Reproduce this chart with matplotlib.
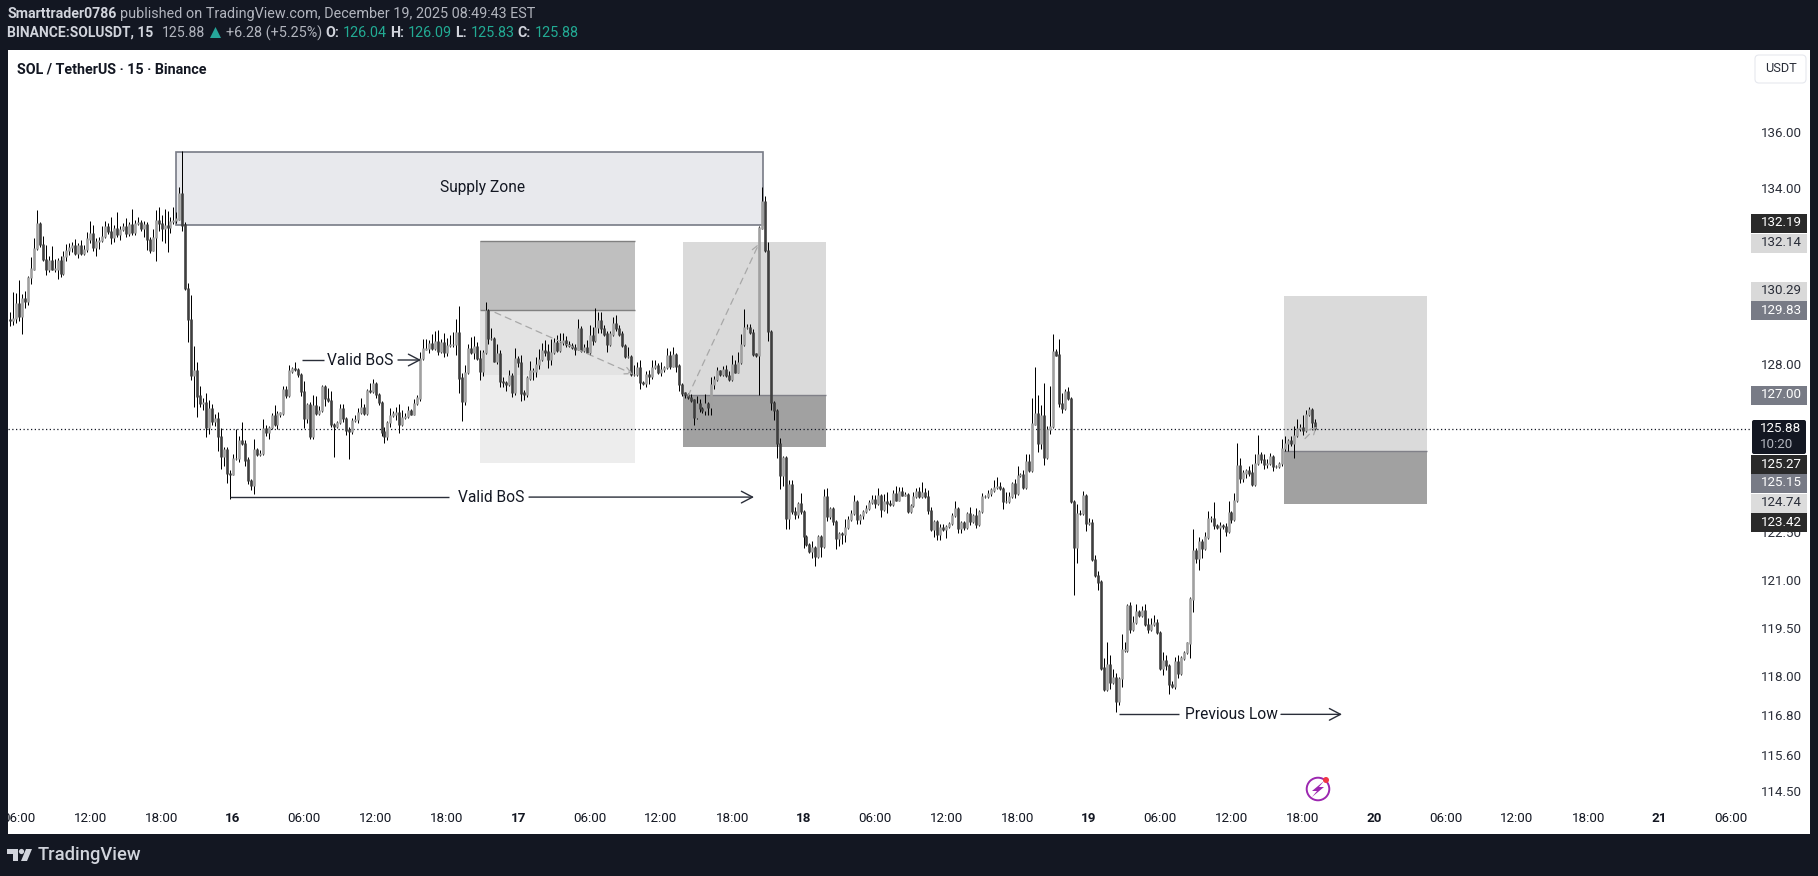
import matplotlib

matplotlib.use("Agg")
import matplotlib.pyplot as plt
import matplotlib.transforms as mtrans
import numpy as np
from matplotlib.patches import Circle, FancyBboxPatch, Polygon, Rectangle

W, H = 1818, 876
BG = "#131722"

closes = [
    129.48, 129.55, 130.06, 129.61, 130.22, 130.11, 130.95, 131.23, 131.93, 132.78,
    132.07, 131.55, 131.23, 131.51, 131.23, 131.23, 131.51, 131.06, 131.66, 131.85,
    131.96, 132.02, 131.76, 132.02, 131.77, 131.90, 132.26, 132.43, 131.96, 132.18,
    132.22, 132.35, 132.67, 132.52, 132.30, 132.63, 132.41, 132.60, 132.67, 132.46,
    132.74, 132.49, 132.78, 132.82, 132.63, 132.74, 132.24, 131.88, 132.30, 132.91,
    132.80, 132.63, 132.71, 132.67, 132.86, 132.90, 132.95, 133.83, 132.74, 130.56,
    129.50, 127.63, 127.78, 126.95, 126.70, 126.75, 125.91, 126.53, 126.10, 126.21,
    125.61, 124.96, 125.18, 124.42, 124.40, 124.90, 124.90, 125.50, 125.39, 124.85,
    124.18, 124.04, 125.18, 125.02, 125.07, 125.88, 125.74, 125.91, 126.30, 126.02,
    126.36, 126.39, 127.18, 126.98, 127.78, 127.85, 127.82, 127.67, 127.09, 126.21,
    126.66, 125.63, 126.64, 126.39, 126.47, 127.26, 126.86, 126.81, 126.02, 125.95,
    126.08, 126.55, 126.21, 125.83, 125.80, 126.14, 126.17, 126.42, 126.58, 126.39,
    127.14, 127.11, 127.37, 127.00, 126.75, 125.77, 125.61, 126.08, 126.30, 126.36,
    126.39, 126.02, 126.25, 126.28, 126.47, 126.36, 126.70, 126.89, 128.21, 128.52,
    128.54, 128.71, 128.54, 128.77, 128.43, 128.72, 128.40, 128.63, 128.68, 128.68,
    129.08, 127.55, 126.76, 127.72, 128.52, 128.40, 128.61, 128.20, 127.78, 128.40,
    129.81, 128.88, 128.88, 128.12, 128.38, 127.44, 127.41, 127.33, 127.63, 127.07,
    128.20, 128.06, 127.05, 127.01, 127.55, 127.78, 127.78, 128.01, 128.18, 128.46,
    128.42, 128.18, 128.40, 128.74, 128.46, 128.74, 128.80, 128.68, 128.63, 128.57,
    128.52, 129.19, 128.46, 128.57, 128.42, 128.97, 128.80, 129.25, 129.48, 129.22,
    129.02, 128.68, 129.02, 129.36, 129.22, 129.02, 128.63, 128.27, 128.27, 127.67,
    127.67, 127.89, 127.39, 127.36, 127.67, 127.61, 127.89, 127.95, 127.72, 127.84,
    127.89, 128.29, 127.95, 128.32, 127.95, 127.33, 127.05, 126.99, 126.91, 126.82,
    126.26, 126.71, 126.54, 126.48, 126.71, 126.59, 127.33, 127.50, 127.78, 127.67,
    127.84, 127.63, 127.50, 128.01, 127.75, 128.06, 128.68, 129.25, 129.25, 129.08,
    128.35, 128.30, 132.64, 133.55, 131.85, 129.10, 126.75, 126.47, 125.38, 124.36,
    124.93, 122.97, 124.04, 123.19, 123.08, 123.43, 123.19, 122.38, 122.12, 121.90,
    122.04, 121.74, 122.38, 122.08, 123.65, 123.03, 123.29, 122.86, 122.33, 122.47,
    122.46, 122.68, 122.94, 123.13, 123.51, 122.92, 123.05, 123.19, 123.29, 123.47,
    123.56, 123.45, 123.69, 123.26, 123.51, 123.45, 123.40, 123.77, 123.56, 123.83,
    123.72, 123.72, 123.19, 123.37, 123.67, 123.83, 123.67, 123.80, 123.67, 123.22,
    122.62, 122.86, 122.44, 122.68, 122.60, 122.70, 122.81, 123.05, 123.29, 122.65,
    122.83, 122.68, 123.13, 122.86, 123.05, 122.76, 123.19, 123.67, 123.67, 123.77,
    123.88, 123.95, 123.99, 123.93, 123.51, 123.51, 123.67, 124.10, 123.77, 124.36,
    124.39, 123.97, 124.79, 124.52, 126.03, 126.38, 125.40, 126.30, 124.95, 125.86,
    125.94, 128.43, 128.32, 126.70, 126.53, 127.09, 126.87, 123.51, 122.04, 123.13,
    123.11, 123.69, 122.81, 122.83, 121.65, 121.15, 120.94, 118.26, 117.60, 118.36,
    117.81, 117.97, 117.23, 117.94, 118.82, 118.82, 120.20, 119.45, 119.67, 120.00,
    119.88, 120.04, 119.61, 119.45, 119.61, 119.67, 119.35, 118.26, 118.50, 118.34,
    117.76, 117.70, 118.45, 118.11, 118.57, 118.74, 119.03, 120.41, 121.92, 121.68,
    122.21, 122.00, 122.37, 122.95, 122.95, 122.74, 122.69, 122.74, 122.71, 122.56,
    123.16, 122.92, 123.53, 124.68, 124.24, 124.43, 124.51, 124.43, 124.06, 124.75,
    125.02, 124.86, 124.70, 124.75, 124.97, 124.65, 124.65, 124.75, 125.23, 125.39,
    125.50, 125.41, 125.65, 125.89, 125.92, 125.81, 126.34, 126.50, 126.08, 125.88,
]

# upper and lower wick lengths in USDT, read bar by bar
wick_up = [
    .25, .90, .35, .80, .15, .25, .05, .40, .35, .47,
    .05, .30, .50, .15, .50, .35, .10, .15, .20, .25,
    .15, .15, .25, .10, .20, .15, .25, .45, .30, .10,
    .10, .35, .20, .15, .50, .10, .55, .10, .15, .30,
    .10, .55, .15, .20, .10, .15, .10, .10, .30, .35,
    .45, .30, .60, .50, .15, .45, .25, .25, 1.49, .10,
    .20, .85, .85, .30, .35, .15, .30, .30, .15, .15,
    .20, .30, .10, .10, .10, .15, .95, .15, .60, .10,
    .10, .05, .35, .05, .10, .30, .10, .05, .10, .35,
    .10, .05, .10, .10, .20, .05, .25, .05, .05, .35,
    .05, .10, .35, .30, .15, .05, .05, .35, .30, .05,
    .05, .15, .15, .05, .10, .10, .15, .15, .30, .10,
    .05, .25, .15, .05, .05, .05, .15, .05, .25, .10,
    .20, .30, .25, .10, .15, .05, .15, .10, .20, .35,
    .30, .10, .30, .35, .40, .15, .35, .25, .30, .40,
    .45, .90, .15, .25, .15, .40, .35, .15, .30, .10,
    .30, .05, .35, .05, .30, .10, .15, .05, .20, .10,
    .35, .10, .25, .10, .05, .35, .10, .25, .35, .25,
    .35, .25, .45, .15, .25, .30, .25, .15, .10, .10,
    .10, .35, .10, .10, .25, .35, .30, .65, .30, .30,
    .10, .10, .10, .25, .30, .10, .10, .05, .30, .05,
    .30, .20, .25, .05, .10, .15, .25, .20, .10, .25,
    .05, .25, .15, .25, .05, .05, .05, .05, .05, .10,
    .05, .25, .15, .05, .30, .05, .25, .10, .15, .05,
    .10, .15, .15, .30, .15, .35, .35, .60, .10, .10,
    .10, .05, .05, .50, .20, .30, .05, .05, .05, .20,
    .05, .05, .15, .15, .15, .05, .35, .05, .05, .05,
    .20, .05, .05, .05, .25, .30, .05, .05, .05, .05,
    .05, .25, .10, .10, .20, .05, .05, .05, .10, .10,
    .15, .15, .25, .05, .25, .30, .10, .10, .25, .15,
    .15, .10, .05, .05, .15, .10, .15, .35, .15, .20,
    .10, .05, .05, .10, .10, .05, .05, .10, .25, .05,
    .05, .05, .05, .20, .05, .25, .05, .10, .05, .10,
    .05, .25, .30, .15, .05, .30, .15, .05, .15, .30,
    .05, .15, .25, .25, .85, 1.55, .60, .35, 1.10, .10,
    1.35, .60, .10, .55, .35, .10, .15, .05, .05, .30,
    .10, .15, .05, .15, .10, .15, .15, .05, .30, .70,
    .30, .25, .15, .05, .50, .25, .05, .10, .20, .25,
    .05, .15, .20, .20, .20, .25, .10, .05, .25, .15,
    .05, .10, .15, .20, .05, .05, .05, .05, .70, .10,
    .15, .10, .15, .25, .10, .55, .05, .10, .05, .10,
    .35, .05, .25, .74, .25, .10, .05, .15, .30, .30,
    .65, .10, .20, .15, .10, .05, .05, .05, .30, .25,
    .05, .15, .30, .30, .10, .40, .15, .10, .05, .10,
]
wick_dn = [
    .20, .15, .15, .15, .60, .20, .10, .25, .05, .05,
    .10, .05, .20, .10, .05, .10, .35, .10, .05, .15,
    .15, .15, .05, .15, .05, .05, .10, .15, .10, .30,
    .25, .05, .05, .10, .20, .15, .10, .20, .05, .15,
    .10, .10, .10, .05, .10, .30, .35, .10, .05, .80,
    .25, .45, .50, .85, .20, .10, .10, .05, .20, .05,
    .75, .15, 1.05, .70, .10, .20, .30, .20, .10, .15,
    .45, .40, .30, .30, .80, .05, .05, .10, .05, .20,
    .10, .15, .30, .05, .05, .05, .10, .20, .05, .05,
    .15, .10, .05, .10, .05, .05, .05, .10, .15, .30,
    .15, .10, .10, .05, .05, .05, .25, .05, .10, 1.00,
    .05, .05, .10, .15, .90, .10, .05, .10, .05, .05,
    .05, .05, .05, .10, .10, .15, .20, .10, .15, .05,
    .20, .30, .05, .05, .05, .05, .05, .05, .10, .05,
    .05, .15, .05, .05, .10, .05, .15, .10, .05, .10,
    .35, .50, .62, .10, .05, .05, .20, .05, .30, .15,
    .05, .20, .05, .05, .10, .20, .15, .20, .05, .15,
    .10, .15, .25, .20, .10, .05, .30, .20, .15, .05,
    .15, .30, .20, .05, .05, .05, .10, .10, .05, .05,
    .20, .05, .05, .05, .05, .10, .15, .05, .20, .15,
    .05, .25, .05, .05, .10, .05, .05, .05, .05, .05,
    .05, .05, .20, .05, .10, .25, .10, .05, .05, .10,
    .10, .05, .10, .05, .20, .20, .10, .10, .05, .05,
    .25, .05, .10, .10, .15, .25, .25, .15, .05, .05,
    .05, .05, .05, .05, .05, .05, .05, .05, .05, .05,
    .05, .05, 1.30, .05, .05, .30, .25, .30, .45, .45,
    .35, .35, .35, .10, .15, .10, .10, .35, .05, .05,
    .20, .30, .05, .35, .05, .15, .10, .10, .35, .25,
    .30, .25, .05, .05, .05, .15, .15, .10, .05, .05,
    .05, .15, .05, .25, .05, .30, .05, .05, .05, .05,
    .05, .05, .05, .05, .05, .05, .05, .05, .05, .10,
    .05, .25, .15, .15, .05, .25, .05, .05, .05, .15,
    .15, .10, .05, .10, .05, .10, .05, .05, .05, .05,
    .10, .05, .05, .05, .25, .05, .05, .05, .15, .05,
    .05, .05, .05, .05, .05, .05, .30, .20, .25, .05,
    .15, .05, .05, .10, .15, .05, .05, .05, 1.50, .50,
    .05, .05, .25, .05, .05, .05, .25, .05, .05, .05,
    .20, .05, .33, .10, .25, .05, .05, .10, .05, .05,
    .05, .05, .05, .10, .05, .05, .05, .05, .20, .15,
    .30, .05, .10, .15, .05, .05, .05, .45, .40, .15,
    .35, .30, .05, .05, .10, .10, .05, .80, .10, .15,
    .05, .10, .05, .05, .15, .10, .15, .10, .05, .05,
    .05, .10, .15, .10, .05, .15, .05, .05, .10, .10,
    .25, .10, .50, .05, .10, .15, .05, .05, .25, .05,
]

axis_ticks = [136.0, 134.0, 128.0, 122.5, 121.0, 119.5, 118.0, 116.8, 115.6, 114.5]
time_labels = ["06:00", "12:00", "18:00", "16", "06:00", "12:00", "18:00", "17", "06:00",
               "12:00", "18:00", "18", "06:00", "12:00", "18:00", "19", "06:00", "12:00",
               "18:00", "20", "06:00", "12:00", "18:00", "21", "06:00"]
last_price = 125.88

# drawings: bar positions and prices
supply_bars = (55.9, 253.2)
supply_prices = (132.74, 135.30)
box_a_bars = (158.2, 210.4)
box_a_prices = (132.19, 129.83, 127.65, 124.74)
box_b_bars = (226.3, 274.7)
box_b_prices = (132.14, 127.00, 125.27)
box_c_bars = (428.6, 476.8)
box_c_prices = (130.29, 125.15, 123.42)
bos_short, bos_long, prev_low = 128.15, 123.65, 116.84

price_tags = [
    ("132.19", 223, "#2a2a2a", "white"),
    ("132.14", 243, "#d9d9d9", "#2a2e39"),
    ("130.29", 291, "#d9d9d9", "#2a2e39"),
    ("129.83", 310, "#787b86", "white"),
    ("127.00", 395, "#787b86", "white"),
    ("125.27", 464, "#2a2a2a", "white"),
    ("125.15", 483, "#787b86", "white"),
    ("124.74", 503, "#dcdcdc", "#2a2e39"),
    ("123.42", 522, "#2a2a2a", "white"),
]


def bar_at(px):
    return (px - 10) / 2.972


def run_text(ov, x, y, runs):
    # several coloured pieces on one baseline
    rend = ov.figure.canvas.get_renderer()
    for txt, color, weight, size in runs:
        t = ov.text(x, y, txt, color=color, fontsize=size, fontweight=weight, va="center", ha="left")
        x += t.get_window_extent(rend).width + 3.4


def main():
    plt.rcParams["font.family"] = ["Roboto", "DejaVu Sans"]
    fig = plt.figure(figsize=(W / 100, H / 100), dpi=100, facecolor=BG)

    ax = fig.add_axes([8 / W, 1 - 834 / H, (1810 - 8) / W, (834 - 50) / H], facecolor="white")
    ax.set_yscale("log")
    ax.set_xlim(bar_at(8), bar_at(1810))
    ax.set_ylim(136 * np.exp(-702 / 3835), 136 * np.exp(82 / 3835))
    ax.set_xticks([])
    ax.set_yticks([])
    ax.minorticks_off()
    for s in ax.spines.values():
        s.set_visible(False)

    c = np.array(closes)
    o = np.r_[129.50, c[:-1]]
    top = np.maximum(o, c)
    bot = np.minimum(o, c)
    hi = top + np.array(wick_up)
    lo = bot - np.array(wick_dn)
    x = np.arange(len(c))

    # boxes go under the candles
    ax.fill_between(supply_bars, *supply_prices, color="#e8e9ed", lw=0, zorder=1)
    ax.add_patch(Rectangle((supply_bars[0], supply_prices[0]), supply_bars[1] - supply_bars[0],
                           supply_prices[1] - supply_prices[0], fill=False, ec="#787b86", lw=1.2, zorder=1.5))
    ax.fill_between(box_a_bars, box_a_prices[1], box_a_prices[0], color="#bfbfbf", lw=0, zorder=1)
    ax.fill_between(box_a_bars, box_a_prices[2], box_a_prices[1], color="#e3e3e3", lw=0, zorder=1)
    ax.fill_between(box_a_bars, box_a_prices[3], box_a_prices[2], color="#ededed", lw=0, zorder=1)
    ax.hlines([box_a_prices[0], box_a_prices[1]], *box_a_bars, color="#808080", lw=1, zorder=1.5)
    ax.fill_between(box_b_bars, box_b_prices[1], box_b_prices[0], color="#dadada", lw=0, zorder=1)
    ax.fill_between(box_b_bars, box_b_prices[2], box_b_prices[1], color="#a1a1a1", lw=0, zorder=1)
    ax.hlines(box_b_prices[1], *box_b_bars, color="#808088", lw=1, zorder=1.5)
    ax.fill_between(box_c_bars, box_c_prices[1], box_c_prices[0], color="#dadada", lw=0, zorder=1)
    ax.fill_between(box_c_bars, box_c_prices[2], box_c_prices[1], color="#a1a1a1", lw=0, zorder=1)
    ax.hlines(box_c_prices[1], *box_c_bars, color="#808088", lw=1, zorder=1.5)

    ax.axhline(last_price, xmax=(1750 - 8) / (1810 - 8), color="#131722", lw=0.9, ls=(0, (1, 2)), zorder=2)

    # candles
    ax.vlines(x, lo, hi, color="black", lw=0.72, zorder=3)
    up = c >= o
    ax.vlines(x[up], bot[up] - 0.02, top[up] + 0.02, color="#a0a0a0", lw=1.9, zorder=4, capstyle="butt")
    ax.vlines(x[~up], bot[~up] - 0.02, top[~up] + 0.02, color="#3f3f3f", lw=1.9, zorder=4, capstyle="butt")

    # dashed trend arrows
    dash = dict(arrowstyle="->,head_length=0.5,head_width=0.25", color="#a8a8a8", lw=0.9, ls=(0, (5, 4)), shrinkA=0, shrinkB=0)
    ax.annotate("", xy=(bar_at(633), 127.68), xytext=(bar_at(495), 129.75), arrowprops=dash, zorder=5)
    ax.annotate("", xy=(bar_at(759), 132.10), xytext=(bar_at(688), 126.95), arrowprops=dash, zorder=5)
    ax.annotate("", xy=(bar_at(1317), 125.95), xytext=(bar_at(1305), 125.55), arrowprops=dash, zorder=5)

    # labelled level arrows
    solid = dict(color="#2a2e39", lw=1)
    arrow = dict(arrowstyle="->,head_length=0.8,head_width=0.42", color="#2a2e39", lw=1, shrinkA=0, shrinkB=0)
    label = dict(fontsize=11.2, color="#131722", ha="center", va="center", zorder=6)
    ax.hlines(bos_short, bar_at(302), bar_at(324), **solid, zorder=5)
    ax.annotate("", xy=(bar_at(421), bos_short), xytext=(bar_at(398), bos_short), arrowprops=arrow, zorder=5)
    ax.text(bar_at(360.5), bos_short, "Valid BoS", **label)
    ax.hlines(bos_long, bar_at(230), bar_at(449), **solid, zorder=5)
    ax.annotate("", xy=(bar_at(754), bos_long), xytext=(bar_at(529), bos_long), arrowprops=arrow, zorder=5)
    ax.text(bar_at(491), bos_long, "Valid BoS", **label)
    ax.hlines(prev_low, bar_at(1119), bar_at(1179), **solid, zorder=5)
    ax.annotate("", xy=(bar_at(1342), prev_low), xytext=(bar_at(1281), prev_low), arrowprops=arrow, zorder=5)
    ax.text(bar_at(1231), prev_low, "Previous Low", **label)
    ax.text(bar_at(483), 134.06, "Supply Zone", **label)

    # time axis, one label every 24 bars
    tr = ax.get_xaxis_transform()
    for i, lab in enumerate(time_labels):
        bold = not lab.endswith(":00")
        ax.text(3 + 24 * i, (834 - 818) / 784, lab, transform=tr, fontsize=9.6, color="#131722",
                ha="center", va="center", fontweight="bold" if bold else "normal", clip_on=True, zorder=6)

    # price axis
    ty = mtrans.offset_copy(ax.get_yaxis_transform(), fig, y=-1, units="dots")
    for p in axis_ticks:
        ax.text((1781 - 8) / 1802, p, f"{p:.2f}", transform=ty, fontsize=9.6, color="#2a2e39",
                ha="center", va="center", zorder=6)

    # overlay in pixels for the tags, header and logo
    ov = fig.add_axes([0, 0, 1, 1], facecolor="none")
    ov.set_xlim(0, W)
    ov.set_ylim(H, 0)
    ov.axis("off")

    for lab, py, fc, tc in price_tags:
        ov.add_patch(Rectangle((1751, py - 9.5), 56, 19, fc=fc, ec="none", zorder=3))
        ov.text(1781, py, lab, color=tc, fontsize=9.6, ha="center", va="center", zorder=4)
    ov.add_patch(FancyBboxPatch((1752, 420), 54, 34, boxstyle="round,pad=0,rounding_size=2", fc=BG, ec="none", zorder=3))
    ov.text(1781, 429, "125.88", color="white", fontsize=9.6, ha="center", va="center", zorder=4)
    ov.text(1777, 445, "10:20", color="#b2b5be", fontsize=9.6, ha="center", va="center", zorder=4)

    ov.add_patch(FancyBboxPatch((1755, 55), 51, 28, boxstyle="round,pad=0,rounding_size=4", fc="white", ec="#e6e8ee", lw=0.8))
    ov.text(1780.5, 69, "USDT", color="#2a2e39", fontsize=9.2, ha="center", va="center")

    grey, light, teal = "#b2b5be", "#d1d4dc", "#22ab94"
    run_text(ov, 7, 14, [("Smarttrader0786", light, "bold", 10.2),
                         ("published on TradingView.com, December 19, 2025 08:49:43 EST", grey, "normal", 10.4)])
    run_text(ov, 7, 33, [("BINANCE:SOLUSDT, 15", light, "bold", 10)])
    run_text(ov, 162, 33, [("125.88", grey, "normal", 10.2)])
    ov.add_patch(Polygon([(210, 38), (221, 38), (215.5, 27)], fc="#26a69a", ec="none"))
    run_text(ov, 226, 33, [("+6.28 (+5.25%)", grey, "normal", 10.4), ("O:", light, "bold", 10.2), ("126.04", teal, "normal", 10.4),
                           ("H:", light, "bold", 10.2), ("126.09", teal, "normal", 10.4), ("L:", light, "bold", 10.2),
                           ("125.83", teal, "normal", 10.4), ("C:", light, "bold", 10.2), ("125.88", teal, "normal", 10.4)])
    ov.text(17, 69, "SOL / TetherUS · 15 · Binance", color="#131722", fontsize=10.3, fontweight="bold", va="center")

    # TradingView logo
    logo = "#d1d4dc"
    ov.add_patch(Polygon([(7, 849), (18, 849), (18, 861), (13, 861), (13, 854), (7, 854)], fc=logo, ec="none"))
    ov.add_patch(Circle((21.5, 851.5), 2.6, fc=logo, ec="none"))
    ov.add_patch(Polygon([(26, 849), (32, 849), (27, 861), (21, 861)], fc=logo, ec="none"))
    ov.text(38, 855, "TradingView", color=logo, fontsize=13.2, fontweight="medium", va="center")

    # lightning badge
    purple = "#9c27b0"
    ov.add_patch(Circle((1318, 789), 11.3, fc="white", ec=purple, lw=1.4, zorder=5))
    ov.add_patch(Polygon([(1324, 781), (1312, 791), (1317, 791), (1312, 797), (1324, 787), (1319, 787)], fc=purple, ec="none", zorder=6))
    ov.add_patch(Circle((1326, 780), 3, fc="#f23645", ec="none", zorder=7))

    fig.savefig("out.png", dpi=100, facecolor=BG)


if __name__ == "__main__":
    main()
